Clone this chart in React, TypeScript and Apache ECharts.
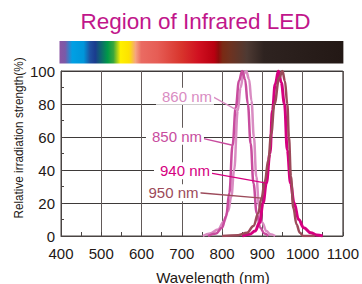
import React, { useEffect, useRef } from "react";
import * as echarts from "echarts";

const titleText = "Region of Infrared LED";
const xAxisName = "Wavelength (nm)";
const yAxisName = "Relative irradiation strength(%)";

// [wavelength nm, relative %]
const curve860 = [[752,0],[770,1.5],[790,4],[805,9],[815,15],[823,24],[830,40],[839,76],[846,90],[853,98],[860,100],[867,95],[873,82],[879,60],[885,36],[892,18],[900,8],[910,3],[920,1],[932,0]];
const curve850 = [[765,0],[785,1.5],[800,5],[810,12],[818,26],[826,55],[834,78],[842,94],[850,100],[857,95],[864,80],[871,56],[878,32],[886,14],[895,5],[905,1.5],[915,0]];
const curve940 = [[850,0],[868,1],[882,3],[893,8],[902,20],[910,32],[919,50],[925,76],[932,92],[940,100],[947,93],[955,80],[962,52],[970,32],[979,20],[990,10],[1003,5],[1020,2],[1035,0.6],[1050,0]];
const curve950 = [[800,0],[840,0.5],[862,2],[878,6],[890,14],[898,23],[906,33],[915,46],[922,62],[930,80],[942,96],[950,100],[956,94],[962,80],[966,60],[971,36],[977,17],[985,7],[993,2],[1002,0],[1030,0]];

const seriesNames = ["860 nm", "850 nm", "940 nm", "950 nm"];
const seriesData = [curve860, curve850, curve940, curve950];
const seriesColors = ["#d98cc2", "#c84c9e", "#d5007f", "#9c4a5a"];
const seriesWidths = [2.5, 2.5, 3, 2.5];
// label anchor and leader line (data coordinates)
const labelAt = [[708, 84.7], [683, 60.5], [703, 39.6], [674.5, 26.2]];
const leaderFrom = [[776.5, 84.5], [749, 59.3], [769, 38.3], [742, 26.2]];
const leaderTo = [[839, 76], [826, 55], [910, 32], [898, 23]];

const spectrumStops: [number, string][] = [
  [0, "#8a55a3"], [0.02, "#7a5aa8"], [0.045, "#00a0e4"], [0.085, "#0096da"],
  [0.108, "#1f4f9f"], [0.126, "#1a3c8e"], [0.17, "#009a48"], [0.19, "#3aa63c"],
  [0.215, "#fff000"], [0.245, "#fde200"], [0.268, "#f5a480"], [0.288, "#ea6b62"],
  [0.345, "#e65d55"], [0.43, "#d8342c"], [0.49, "#d01020"], [0.545, "#b80010"],
  [0.56, "#8e0c0c"], [0.575, "#7a2a14"], [0.6, "#6f3220"], [0.66, "#4e3a33"],
  [0.72, "#2e2320"], [1, "#231815"],
];

const FONT = "'Liberation Sans', Arial, sans-serif";
const TEXT = "#231815";

export default function App() {
  const ref = useRef<HTMLDivElement>(null);
  useEffect(() => {
    const chart = echarts.init(ref.current!, null, { renderer: "svg" });
    const option: any = {
      animation: false,
      backgroundColor: "#fff",
      textStyle: { fontFamily: FONT },
      grid: {
        left: 61, right: 17, top: 71, bottom: 48,
        show: true, borderColor: "#4a4443", borderWidth: 1, backgroundColor: "transparent",
      },
      xAxis: {
        type: "value", min: 400, max: 1100, interval: 100,
        axisLine: { lineStyle: { color: "#4a4443", width: 1 } },
        axisTick: { show: true, inside: true, length: 4, lineStyle: { color: "#4a4443" } },
        minorTick: { show: true, splitNumber: 2, length: 4, lineStyle: { color: "#4a4443" } },
        axisLabel: { color: TEXT, fontSize: 15, fontFamily: FONT, margin: 10, formatter: (v: number) => String(v) },
        splitLine: { show: true, lineStyle: { color: "#625a59", width: 1 } },
      },
      yAxis: {
        type: "value", min: 0, max: 100, interval: 20,
        axisLine: { show: true, lineStyle: { color: "#4a4443", width: 1 } },
        axisTick: { show: true, inside: true, length: 3, lineStyle: { color: "#4a4443" } },
        minorTick: { show: true, splitNumber: 2, length: 3, lineStyle: { color: "#4a4443" } },
        axisLabel: { color: TEXT, fontSize: 15, fontFamily: FONT, margin: 6, formatter: (v: number) => String(v) },
        splitLine: { show: true, lineStyle: { color: "#3e3a39", width: 1 } },
      },
      series: seriesNames.map((name, i) => ({
        type: "line",
        name,
        data: seriesData[i],
        smooth: 0.4,
        smoothMonotone: "x",
        showSymbol: false,
        symbol: "none",
        lineStyle: { color: seriesColors[i], width: seriesWidths[i] },
        z: 3,
        markLine: {
          silent: true,
          symbol: ["none", "none"],
          label: { show: false },
          lineStyle: { color: seriesColors[i], width: 1.3, type: "solid" },
          data: [[{ coord: leaderFrom[i] }, { coord: leaderTo[i] }]],
        },
        markPoint: {
          silent: true,
          symbol: "rect",
          symbolSize: 1,
          itemStyle: { color: "rgba(0,0,0,0)" },
          label: {
            show: true, position: "inside", formatter: name,
            color: seriesColors[i], fontSize: 15, fontFamily: FONT,
            backgroundColor: "#fff", padding: [1, 2, 1, 6],
          },
          data: [{ coord: labelAt[i] }],
        },
      })),
    };
    chart.setOption(option);

    const xa = chart.convertToPixel({ xAxisIndex: 0 }, 400) as number;
    const xb = chart.convertToPixel({ xAxisIndex: 0 }, 1100) as number;
    const yTop = chart.convertToPixel({ yAxisIndex: 0 }, 100) as number;
    const yBot = chart.convertToPixel({ yAxisIndex: 0 }, 0) as number;
    chart.setOption({
      graphic: [
        {
          type: "rect", silent: true,
          shape: { x: xa - 1.5, y: yTop - 30, width: xb - xa + 2, height: 22.5 },
          style: {
            fill: new echarts.graphic.LinearGradient(0, 0, 1, 0,
              spectrumStops.map(([offset, color]) => ({ offset, color }))),
          },
        },
        {
          type: "text", x: 195.5, y: 21.3,
          style: { text: titleText, fill: "#c1168b", fontSize: 22.5, fontFamily: FONT,
            textAlign: "center", textVerticalAlign: "middle" },
        },
        {
          type: "text", x: 213, y: yBot + 41,
          style: { text: xAxisName, fill: TEXT, fontSize: 15, fontFamily: FONT,
            textAlign: "center", textVerticalAlign: "middle" },
        },
        {
          type: "text", x: 19, y: 138, rotation: Math.PI / 2, scaleX: 0.87,
          style: { text: yAxisName, fill: TEXT, fontSize: 13.5, fontFamily: FONT,
            textAlign: "center", textVerticalAlign: "middle" },
        },
      ],
    });
    return () => chart.dispose();
  }, []);
  return (
    <div
      ref={ref}
      style={{ position: "fixed", left: 0, top: 0, width: 362, height: 284, background: "#fff" }}
    />
  );
}
